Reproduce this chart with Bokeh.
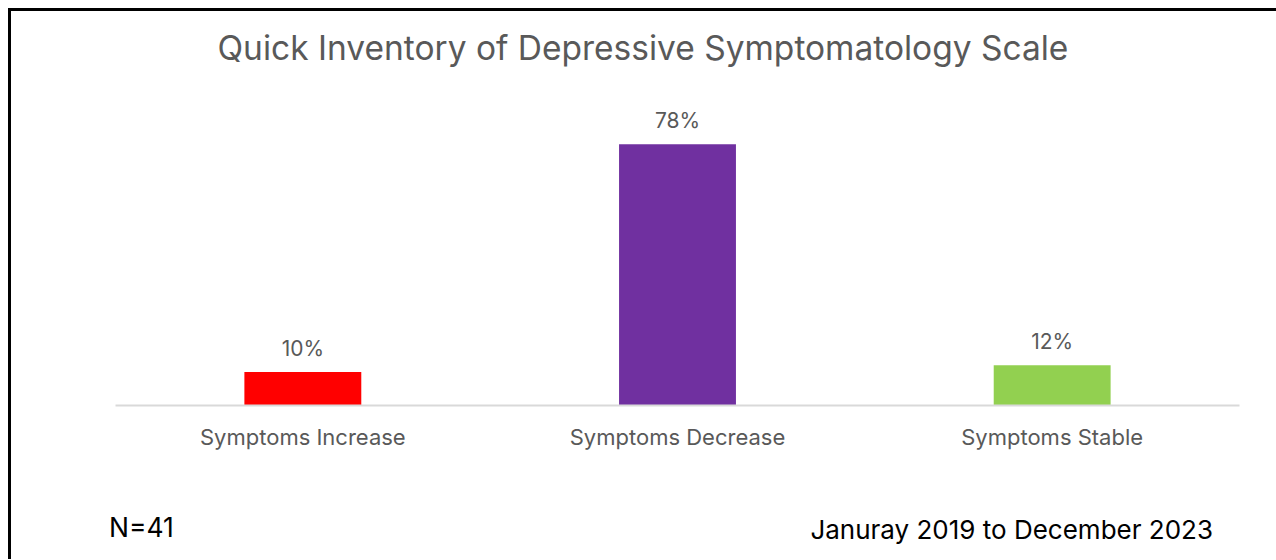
from bokeh.plotting import figure
from bokeh.models import ColumnDataSource, LabelSet, FactorRange, Div
from bokeh.layouts import column
from bokeh.core.properties import value
from bokeh.embed import file_html
from bokeh.resources import INLINE

categories = ["Symptoms Increase", "Symptoms Decrease", "Symptoms Stable"]
values = [10, 78, 12]
colors = ["#FF0000", "#7030A0", "#92D050"]
title_text = "Quick Inventory of Depressive Symptomatology Scale"
n_text = "N=41"
date_text = "Januray 2019 to December 2023"

FONT = "Inter"
GRAY = "#595959"

src = ColumnDataSource(dict(
    cat=categories, val=values, color=colors,
    lab=[f"{v}%" for v in values],
))

p = figure(
    x_range=FactorRange(*categories, range_padding=0),
    y_range=(0, 100),
    width=1262, height=489,
    output_backend="svg", toolbar_location=None,
    min_border_left=104, min_border_right=34,
    min_border_top=59, min_border_bottom=95,
)
p.outline_line_color = None
p.xgrid.grid_line_color = None
p.ygrid.grid_line_color = None
p.yaxis.visible = False

p.title.text = title_text
p.title.align = "left"
p.title.offset = 102
p.title.text_font = FONT
p.title.text_font_size = "33.5px"
p.title.text_font_style = "normal"
p.title.text_color = GRAY
p.title.standoff = 5

p.vbar(x="cat", top="val", width=0.312, fill_color="color", line_color=None, source=src)

p.add_layout(LabelSet(x="cat", y="val", text="lab", source=src, y_offset=24,
                      text_align="center", text_baseline="middle",
                      text_font=value(FONT), text_font_size=value("21px"),
                      text_color=value(GRAY)))

xa = p.xaxis[0]
xa.axis_line_color = "#D9D9D9"
xa.axis_line_width = 2
xa.major_tick_line_color = None
xa.minor_tick_line_color = None
xa.major_label_text_font = FONT
xa.major_label_text_font_size = "22px"
xa.major_label_text_color = GRAY
xa.major_label_standoff = 12

footer = Div(
    width=1262, height=49,
    text=(
        '<div style="position:relative;width:1262px;height:49px;font-family:Inter;color:black;">'
        f'<span style="position:absolute;left:93px;top:7px;font-size:26.5px;line-height:30px;white-space:nowrap;">{n_text}</span>'
        f'<span style="position:absolute;right:65px;top:10px;font-size:26px;line-height:30px;white-space:nowrap;">{date_text}</span>'
        '</div>'
    ),
)

layout = column(p, footer, spacing=0, margin=(8, 0, 0, 8),
                styles={"border-left": "3px solid black", "border-top": "3px solid black"})

open("out.html", "w").write(file_html(layout, INLINE))
